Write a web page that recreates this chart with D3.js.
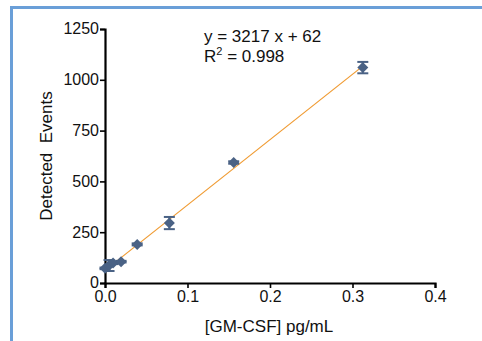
<!DOCTYPE html>
<html>
<head>
<meta charset="utf-8">
<script src="https://cdn.jsdelivr.net/npm/d3@7"></script>
<style>
  body { margin: 0; background: #fff; }
  svg text { font-family: "Liberation Sans", Arial, sans-serif; fill: #111; }
</style>
</head>
<body>
<div id="chart"></div>
<script>
// concentrations (pg/mL) and detected events
var conc = [0, 0.0049, 0.0098, 0.0195, 0.039, 0.078, 0.156, 0.3125];
var events = [72, 86, 98, 105, 190, 295, 593, 1060];
var errs = [4, 27, 5, 4, 5, 30, 6, 28];
var xTicks = [0, 0.1, 0.2, 0.3, 0.4];
var yTicks = [0, 250, 500, 750, 1000, 1250];
var slope = 3217, intercept = 62;

var w = 482, h = 341;
var margin = { top: 29, right: 47, bottom: 58, left: 105 };
var width = w - margin.left - margin.right;
var height = h - margin.top - margin.bottom;

var svg = d3.select("#chart").append("svg")
  .attr("width", w)
  .attr("height", h);

// blue frame
svg.append("rect")
  .attr("x", 11.5).attr("y", 7.5)
  .attr("width", 500).attr("height", 400)
  .attr("fill", "none")
  .attr("stroke", "#6a9fd8")
  .attr("stroke-width", 3);

var g = svg.append("g")
  .attr("transform", "translate(" + margin.left + "," + margin.top + ")");

var x = d3.scaleLinear().domain([0, 0.4]).range([0, width]);
var y = d3.scaleLinear().domain([0, 1250]).range([height, 0]);

var xAxis = d3.axisBottom(x).tickValues(xTicks).tickSize(5).tickPadding(3)
  .tickFormat(d3.format(".1f"));
var yAxis = d3.axisLeft(y).tickValues(yTicks).tickSize(5).tickPadding(1)
  .tickFormat(d3.format("d"));

var gx = g.append("g").attr("transform", "translate(0," + height + ")").call(xAxis);
var gy = g.append("g").call(yAxis);

[gx, gy].forEach(function(a) {
  a.select(".domain").attr("stroke", "#000").attr("stroke-width", 2.2);
  a.selectAll(".tick line").attr("stroke", "#000").attr("stroke-width", 1.6);
  a.selectAll(".tick text").attr("font-size", 16).attr("fill", "#111")
    .style("font-family", "Liberation Sans, Arial, sans-serif");
});
gy.selectAll(".tick text").attr("dy", "0.3em");

// regression line
g.append("line")
  .attr("x1", x(0)).attr("y1", y(intercept))
  .attr("x2", x(conc[conc.length - 1])).attr("y2", y(slope * conc[conc.length - 1] + intercept))
  .attr("stroke", "#f09a30")
  .attr("stroke-width", 1.2);

var col = "#4a6285";

// error bars
var eb = g.selectAll(".eb").data(conc).enter().append("g").attr("class", "eb");
eb.append("line")
  .attr("x1", function(d) { return x(d); }).attr("x2", function(d) { return x(d); })
  .attr("y1", function(d, i) { return y(events[i] - errs[i]); })
  .attr("y2", function(d, i) { return y(events[i] + errs[i]); })
  .attr("stroke", col).attr("stroke-width", 2);
eb.selectAll(".cap").data(function(d, i) { return [[d, events[i] - errs[i]], [d, events[i] + errs[i]]]; })
  .enter().append("line")
  .attr("x1", function(d) { return x(d[0]) - 5.5; })
  .attr("x2", function(d) { return x(d[0]) + 5.5; })
  .attr("y1", function(d) { return y(d[1]); })
  .attr("y2", function(d) { return y(d[1]); })
  .attr("stroke", col).attr("stroke-width", 2);

// diamonds
g.selectAll(".pt").data(conc).enter().append("path")
  .attr("class", "pt")
  .attr("d", "M0,-5.5L5.5,0L0,5.5L-5.5,0Z")
  .attr("transform", function(d, i) { return "translate(" + x(d) + "," + y(events[i]) + ")"; })
  .attr("fill", col);

// equation
var eq = svg.append("g").attr("font-size", 17);
eq.append("text").attr("x", 204).attr("y", 42).text("y = 3217 x + 62");
var r2 = eq.append("text").attr("x", 204).attr("y", 62);
r2.append("tspan").text("R");
r2.append("tspan").attr("font-size", 11).attr("dy", -7).text("2");
r2.append("tspan").attr("dy", 7).text(" = 0.998");

// axis titles
svg.append("text")
  .attr("x", margin.left + width / 2 - 1).attr("y", 332)
  .attr("text-anchor", "middle").attr("font-size", 17)
  .text("[GM-CSF] pg/mL");

svg.append("text")
  .attr("transform", "translate(52," + (margin.top + height / 2) + ") rotate(-90)")
  .attr("text-anchor", "middle").attr("font-size", 17)
  .style("white-space", "pre")
  .text("Detected  Events");
</script>
</body>
</html>
